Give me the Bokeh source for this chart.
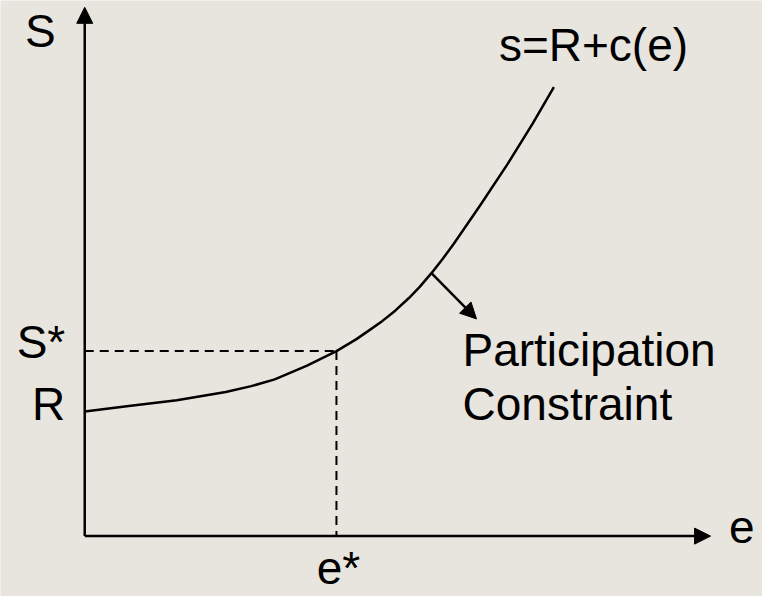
from bokeh.plotting import figure
from bokeh.models import Arrow, NormalHead
from bokeh.embed import file_html
from bokeh.resources import INLINE
from bokeh.core.properties import value

# ---- data (units: effort e, salary s) ----
effort = [0.00, 0.45, 0.94, 1.44, 1.70, 1.94, 2.27, 2.57, 2.77, 2.90, 3.04, 3.17, 3.31, 3.42,
          3.54, 3.65, 3.77, 4.04, 4.31, 4.57, 4.79]
salary = [1.28, 1.335, 1.395, 1.48, 1.54, 1.61, 1.75, 1.90, 2.02, 2.11, 2.21, 2.315, 2.445, 2.56,
          2.70, 2.84, 3.005, 3.40, 3.81, 4.23, 4.61]
R_val = 1.28
s_star = 1.90
e_star = 2.57
e_axis_end = 6.39
s_axis_end = 5.43
pc_index = 14            # curve point where the participation-constraint arrow starts
pc_end = (4.00, 2.23)    # arrow tip

curve_label = "s=R+c(e)"
pc_labels = ["Participation", "Constraint"]

BG = "#E8E4DE"
FONT = value("Liberation Sans")
FS = "46px"

p = figure(width=762, height=596, x_range=(-0.86, 6.92), y_range=(-0.62, 5.50),
           output_backend="svg", toolbar_location=None, min_border=0)
p.axis.visible = False
p.grid.visible = False
p.outline_line_color = None
p.background_fill_color = BG
p.border_fill_color = BG

def head():
    return NormalHead(size=16, fill_color="black", line_color="black", line_width=1)

# axes with arrow heads
p.add_layout(Arrow(x_start=0, y_start=0, x_end=e_axis_end, y_end=0, line_width=2.5,
                   line_color="black", end=head()))
p.add_layout(Arrow(x_start=0, y_start=0, x_end=0, y_end=s_axis_end, line_width=2.5,
                   line_color="black", end=head()))

# dashed guides
p.line([0, e_star], [s_star, s_star], line_color="black", line_width=2, line_dash="9 6")
p.line([e_star, e_star], [s_star, 0], line_color="black", line_width=2, line_dash="9 6")

# curve
p.line(effort, salary, line_color="black", line_width=2.5, line_join="round")

# participation constraint arrow
p.add_layout(Arrow(x_start=effort[pc_index], y_start=salary[pc_index], x_end=pc_end[0],
                   y_end=pc_end[1], line_width=2.5, line_color="black", end=head()))

def label(x, y, t, align, dx, dy):
    p.text(x=[x], y=[y], text=[t], text_font=FONT, text_font_size=FS, text_color="black",
           text_align=align, text_baseline="alphabetic", x_offset=dx, y_offset=dy)

label(0, s_axis_end, "S", "right", -29, 24)
label(0, s_star, "S*", "right", -19.5, -9)
label(0, R_val, "R", "right", -19.5, -7)
label(e_star, 0, "e*", "center", 2, 32)
label(e_axis_end, 0, "e", "left", 18.5, -9)
label(effort[-1], salary[-1], curve_label, "left", -55, -42)
label(pc_end[0], pc_end[1], pc_labels[0], "left", -14, 31)
label(pc_end[0], pc_end[1], pc_labels[1], "left", -14, 85)

open("out.html", "w").write(file_html(p, INLINE))
